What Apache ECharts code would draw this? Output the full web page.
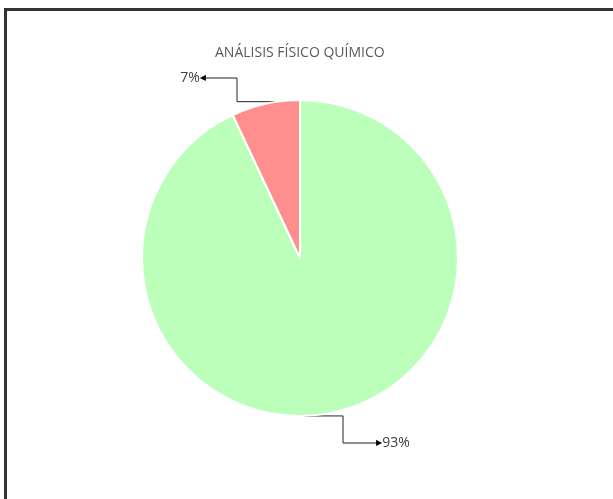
<!DOCTYPE html>
<html>
<head>
<meta charset="utf-8">
<script src="https://cdn.jsdelivr.net/npm/echarts@6/dist/echarts.min.js"></script>
<style>
  html, body { margin: 0; padding: 0; background: #fff; overflow: hidden; }
  #frame { position: absolute; left: 4px; top: 8px; width: 700px; height: 600px;
           border-top: 3px solid #333; border-left: 3px solid #333; box-sizing: border-box; }
  #main { position: absolute; left: 0; top: 0; width: 613px; height: 499px; }
</style>
</head>
<body>
<div id="frame"></div>
<div id="main"></div>
<script>
const title = 'ANÁLISIS FÍSICO QUÍMICO';
const categories = ['Cumple', 'No cumple'];
const values = [93, 7];
const labels = ['93%', '7%'];
const colors = ['#BBFFBB', '#FF8F8F'];

const CX = 300, CY = 258, R = 158;

const chart = echarts.init(document.getElementById('main'), null, { renderer: 'canvas' });

// leader line layout (annotation geometry, not data)
function leader(idx) {
  if (idx === 1) {
    const sx = CX - 23, sy = CY - Math.sqrt(R * R - 23 * 23);
    return { points: [[sx, sy], [237, sy], [237, 78], [206, 78]], x: 206, y: 78, align: 'right' };
  }
  const sx = CX + 4, sy = CY + Math.sqrt(R * R - 16);
  return { points: [[sx, sy], [343, sy], [343, 443], [376, 443]], x: 376, y: 443, align: 'left' };
}

chart.setOption({
  animation: false,
  title: {
    text: title, left: 210, top: 41,
    textStyle: { fontFamily: 'Open Sans', fontSize: 14, fontWeight: 'normal', color: '#595959' }
  },
  series: [{
    type: 'pie',
    center: [CX, CY],
    radius: R,
    startAngle: 90,
    clockwise: true,
    data: categories.map((c, i) => ({
      name: c, value: values[i],
      itemStyle: { color: colors[i] },
      label: {
        formatter: i === 1 ? '{t|' + labels[i] + '}{a|◀}' : '{a|▶}{t|' + labels[i] + '}'
      }
    })),
    itemStyle: { borderColor: '#fff', borderWidth: 2 },
    label: {
      show: true, position: 'outside',
      rich: {
        t: { fontFamily: 'Open Sans', fontSize: 14, color: '#404040' },
        a: { fontFamily: 'DejaVu Sans', fontSize: 8, color: '#000' }
      }
    },
    labelLine: { show: true, length: 20, length2: 20, lineStyle: { color: '#222', width: 1 } },
    labelLayout: function (p) {
      const l = leader(p.dataIndex);
      return { x: l.x, y: l.y, align: l.align, verticalAlign: 'middle', labelLinePoints: l.points };
    },
    emphasis: { disabled: true }
  }]
});
</script>
</body>
</html>
